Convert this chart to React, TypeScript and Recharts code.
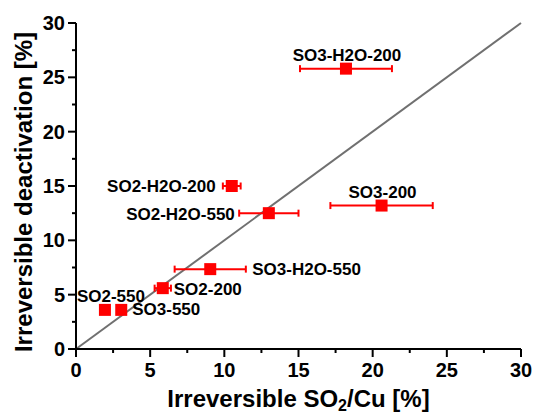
import React from "react";
import {
  ErrorBar,
  Label,
  ReferenceLine,
  Scatter,
  ScatterChart,
  XAxis,
  YAxis,
} from "recharts";

// sample names, x = irreversible SO2/Cu [%], y = irreversible deactivation [%]
const NAMES = [
  "SO3-H2O-200",
  "SO3-200",
  "SO2-H2O-200",
  "SO2-H2O-550",
  "SO3-H2O-550",
  "SO2-200",
  "SO2-550",
  "SO3-550",
];
const X_VALUES = [18.2, 20.6, 10.5, 13.0, 9.05, 5.85, 1.95, 3.05];
const Y_VALUES = [25.8, 13.2, 15.0, 12.5, 7.35, 5.6, 3.6, 3.6];
const X_ERRORS = [3.1, 3.45, 0.6, 2.0, 2.4, 0.55, 0, 0];

const AXIS_TICKS = [0, 2.5, 5, 7.5, 10, 12.5, 15, 17.5, 20, 22.5, 25, 27.5, 30];
const DIAGONAL = [0, 30];

const data = NAMES.map((name, i) => ({
  name,
  x: X_VALUES[i],
  y: Y_VALUES[i],
  err: X_ERRORS[i],
}));

const FONT = '"Liberation Sans", Arial, sans-serif';
const RED = "#ff0000";

// where each point label sits relative to its marker
const LABEL_POS: Record<string, { dx: number; dy: number; anchor: string }> = {
  "SO3-H2O-200": { dx: 1, dy: -8, anchor: "middle" },
  "SO3-200": { dx: 1, dy: -8, anchor: "middle" },
  "SO2-H2O-200": { dx: -16, dy: 6, anchor: "end" },
  "SO2-H2O-550": { dx: -34, dy: 7, anchor: "end" },
  "SO3-H2O-550": { dx: 42, dy: 6, anchor: "start" },
  "SO2-200": { dx: 11, dy: 7, anchor: "start" },
  "SO2-550": { dx: 6, dy: -8, anchor: "middle" },
  "SO3-550": { dx: 11, dy: 5, anchor: "start" },
};

const SquareWithLabel = (props: any) => {
  const { cx, cy, payload } = props;
  if (cx == null || cy == null) return null;
  const pos = LABEL_POS[payload.name];
  return (
    <g>
      <rect x={cx - 6} y={cy - 6} width={12} height={12} fill={RED} />
      <text
        x={cx + pos.dx}
        y={cy + pos.dy}
        textAnchor={pos.anchor as any}
        fontFamily={FONT}
        fontWeight="bold"
        fontSize={17}
        fill="#000"
      >
        {payload.name}
      </text>
    </g>
  );
};

const XTick = (props: any) => {
  const { x, y, payload } = props;
  const major = payload.value % 5 === 0;
  return (
    <g>
      <line x1={x} y1={y} x2={x} y2={y + (major ? 8 : 4)} stroke="#000" strokeWidth={2} />
      {major && (
        <text x={x} y={y + 28} textAnchor="middle" fontFamily={FONT} fontWeight="bold" fontSize={20} fill="#000">
          {payload.value}
        </text>
      )}
    </g>
  );
};

const YTick = (props: any) => {
  const { x, y, payload } = props;
  const major = payload.value % 5 === 0;
  return (
    <g>
      <line x1={x - (major ? 8 : 4)} y1={y} x2={x} y2={y} stroke="#000" strokeWidth={2} />
      {major && (
        <text x={x - 11} y={y + 7} textAnchor="end" fontFamily={FONT} fontWeight="bold" fontSize={20} fill="#000">
          {payload.value}
        </text>
      )}
    </g>
  );
};

const XTitle = (props: any) => {
  const { viewBox } = props;
  const cx = viewBox.x + viewBox.width / 2;
  return (
    <text x={cx} y={viewBox.y + 58} textAnchor="middle" fontFamily={FONT} fontWeight="bold" fontSize={24} fill="#000">
      Irreversible SO
      <tspan fontSize={16} dy={4}>2</tspan>
      <tspan dy={-4}>/Cu [%]</tspan>
    </text>
  );
};

const YTitle = () => (
  <text
    x={32}
    y={192}
    transform="rotate(-90 32 192)"
    textAnchor="middle"
    fontFamily={FONT}
    fontWeight="bold"
    fontSize={24}
    fill="#000"
  >
    Irreversible deactivation [%]
  </text>
);

export default function App() {
  return (
    <div style={{ position: "absolute", left: 0, top: 0, background: "#fff" }}>
      <ScatterChart
        width={536}
        height={414}
        margin={{ top: 23, right: 15, bottom: 0, left: 0 }}
      >
        <XAxis
          type="number"
          dataKey="x"
          domain={[0, 30]}
          ticks={AXIS_TICKS}
          interval={0}
          height={65}
          tickSize={0}
          tickMargin={0}
          tickLine={false}
          axisLine={{ stroke: "#000", strokeWidth: 2 }}
          tick={<XTick />}
        >
          <Label content={<XTitle />} />
        </XAxis>
        <YAxis
          type="number"
          dataKey="y"
          domain={[0, 30]}
          ticks={AXIS_TICKS}
          interval={0}
          width={76}
          tickSize={0}
          tickMargin={0}
          tickLine={false}
          axisLine={{ stroke: "#000", strokeWidth: 2 }}
          tick={<YTick />}
        >
          <Label content={<YTitle />} />
        </YAxis>
        <ReferenceLine
          segment={[
            { x: DIAGONAL[0], y: DIAGONAL[0] },
            { x: DIAGONAL[1], y: DIAGONAL[1] },
          ]}
          stroke="#707070"
          strokeWidth={2}
        />
        <Scatter data={data} shape={<SquareWithLabel />} isAnimationActive={false}>
          <ErrorBar
            dataKey="err"
            direction="x"
            stroke={RED}
            strokeWidth={2}
            width={3.5}
            isAnimationActive={false}
          />
        </Scatter>
      </ScatterChart>
    </div>
  );
}
